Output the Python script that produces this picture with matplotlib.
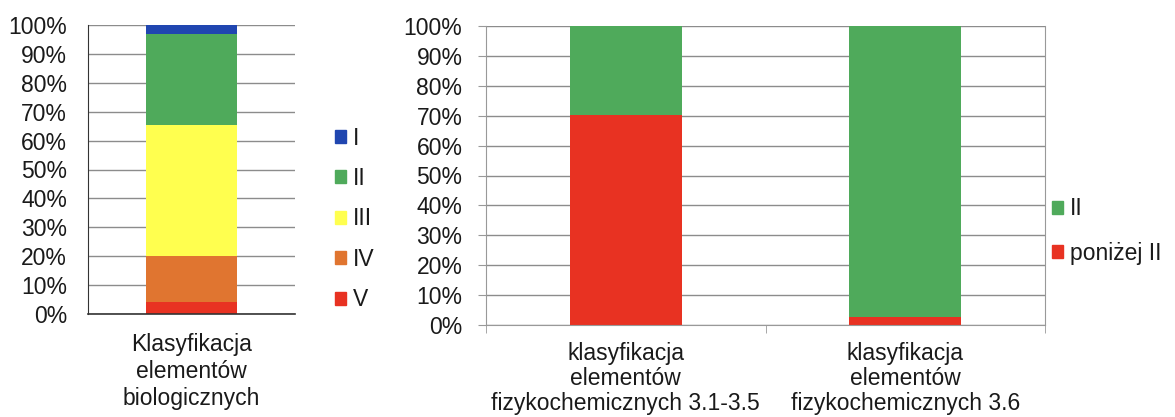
import numpy as np
import matplotlib
matplotlib.use("Agg")
import matplotlib.pyplot as plt
from matplotlib.patches import Patch
from matplotlib.ticker import FuncFormatter

plt.rcParams['font.family'] = ['Liberation Sans', 'DejaVu Sans']
plt.rcParams['text.color'] = '#1a1a1a'

# left chart: biological elements
bio_category = ['Klasyfikacja\nelementów\nbiologicznych']
bio_classes = ['V', 'IV', 'III', 'II', 'I']
bio_values = [4.0, 16.2, 45.1, 31.5, 3.2]
bio_colors = ['#e83222', '#e07530', '#ffff4f', '#4faa5b', '#2046b0']

# right chart: physico-chemical elements
phys_categories = ['klasyfikacja\nelementów\nfizykochemicznych 3.1-3.5',
                   'klasyfikacja\nelementów\nfizykochemicznych 3.6']
phys_below = [70.3, 2.6]
phys_ii = [29.7, 97.4]
phys_colors = {'II': '#4faa5b', 'poniżej II': '#e83222'}

yticks = np.arange(0, 101, 10)
pct = FuncFormatter(lambda v, p: f'{int(v)}%')
FS = 16.5

fig = plt.figure(figsize=(11.75, 4.17), dpi=100)
W, H = 1175, 417

def style(ax):
    ax.set_ylim(0, 100)
    ax.set_yticks(yticks)
    ax.yaxis.set_major_formatter(pct)
    ax.grid(axis='y', color='#8c8c8c', linewidth=1.0)
    ax.set_axisbelow(True)
    ax.tick_params(axis='both', labelsize=FS, colors='#1a1a1a')
    ax.spines['top'].set_visible(False)

# left axes
ax1 = fig.add_axes([88 / W, (H - 314) / H, 207 / W, 289 / H])
style(ax1)
bottom = 0
for cls, val, col in zip(bio_classes, bio_values, bio_colors):
    ax1.bar(0, val, width=0.435, bottom=bottom, color=col, label=cls)
    bottom += val
ax1.set_xlim(-0.5, 0.5)
ax1.set_xticks([0])
ax1.set_xticklabels(bio_category, fontsize=FS, linespacing=1.2)
ax1.tick_params(axis='x', length=0, pad=14)
ax1.tick_params(axis='y', length=0, pad=15)
ax1.spines['right'].set_visible(False)
ax1.spines['left'].set_color('#333333')
ax1.spines['bottom'].set_color('#333333')
ax1.spines['bottom'].set_linewidth(1.2)

h1 = [Patch(color=c, label=l) for l, c in zip(bio_classes[::-1], bio_colors[::-1])]
fig.legend(handles=h1, loc='center left', bbox_to_anchor=(314 / W, 1 - 219 / H),
           frameon=False, fontsize=FS, handlelength=0.5, handleheight=0.5,
           handletextpad=0.3, labelspacing=0.76)

# right axes
ax2 = fig.add_axes([486 / W, (H - 325) / H, 559 / W, 299 / H])
style(ax2)
x = np.arange(len(phys_categories))
ax2.bar(x, phys_below, width=0.4, color=phys_colors['poniżej II'], label='poniżej II')
ax2.bar(x, phys_ii, width=0.4, bottom=phys_below, color=phys_colors['II'], label='II')
ax2.set_xlim(-0.5, 1.5)
ax2.set_xticks(x)
ax2.set_xticklabels(phys_categories, fontsize=FS, linespacing=1.12)
ax2.set_xticks([-0.5, 0.5, 1.5], minor=True)
ax2.tick_params(axis='x', which='major', length=0, pad=12)
ax2.tick_params(axis='x', which='minor', length=6, color='#999999')
ax2.tick_params(axis='y', length=6, color='#999999', pad=11)
for s in ['left', 'right', 'bottom']:
    ax2.spines[s].set_color('#999999')

h2 = [Patch(color=phys_colors['II'], label='II'),
      Patch(color=phys_colors['poniżej II'], label='poniżej II')]
fig.legend(handles=h2, loc='center left', bbox_to_anchor=(1031 / W, 1 - 231 / H),
           frameon=False, fontsize=FS, handlelength=0.5, handleheight=0.5,
           handletextpad=0.3, labelspacing=0.93)

fig.savefig('out.png', dpi=100)
